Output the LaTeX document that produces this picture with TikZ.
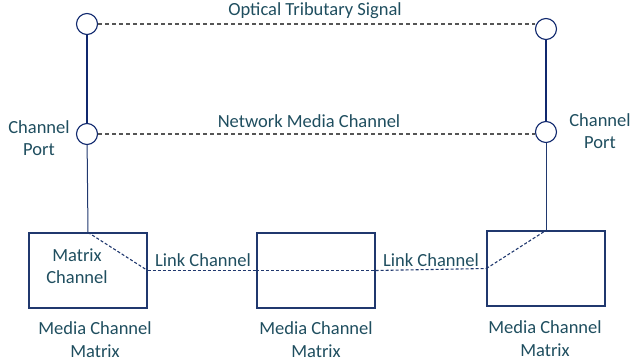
\documentclass[tikz,border=0pt]{standalone}
\usepackage{fontspec}
\setmainfont{Carlito}
\usepackage{xcolor}
\usetikzlibrary{arrows.meta}
\definecolor{txtteal}{RGB}{31,78,95}
\definecolor{navyline}{RGB}{16,40,110}
\definecolor{boxline}{RGB}{32,56,110}
\definecolor{dashgray}{RGB}{85,85,85}

\begin{document}
\begin{tikzpicture}[x=1pt,y=-1pt,
		lbl/.style={text=txtteal,font=\fontsize{18.5}{22.5}\selectfont,align=center,inner sep=0pt},
		port/.style={circle,draw=navyline,fill=white,line width=1.1pt,minimum size=21pt,inner sep=0pt},
		mcm/.style={rectangle,draw=boxline,line width=1.2pt,minimum width=118pt,minimum height=75pt,inner sep=0pt},
		sig/.style={dashgray,line width=1.2pt,dash pattern=on 4pt off 3pt},
		link/.style={boxline,line width=1.1pt,dash pattern=on 3pt off 2pt}]
		
		\useasboundingbox (0,0) rectangle (633,364);
		
		% Media channel matrices
		\node[mcm] (mxl) at (88,270.5) {};
		\node[mcm] (mxm) at (316,270.5) {};
		\node[mcm] (mxr) at (546,268.5) {};
		
		% Channel ports
		\draw[navyline,line width=2.4pt] (87,24) -- (87,134);
		\draw[navyline,line width=2.4pt] (546,29) -- (546,132);
		\node[port] (ptl) at (87,24) {};
		\node[port] (pbl) at (87,134) {};
		\node[port] (ptr) at (546,29) {};
		\node[port] (pbr) at (546,132) {};
		
		% Signal and network media channel
		\draw[sig] (ptl.east) -- (ptl.east -| ptr.west);
		\draw[sig] (pbl.east) -- (pbl.east -| pbr.west);
		\node[lbl] (ots) at (315,11) {Optical Tributary Signal};
		\node[lbl] (nmc) at (309,121) {Network Media Channel};
		
		% Ports down to the matrices
		\draw[boxline,line width=1pt] (pbl) -- (mxl.north);
		\draw[boxline,line width=1pt] (pbr) -- (mxr.north);
		
		% Matrix and link channels
		\draw[link] (mxl.north) -- (mxl.east);
		\draw[link] (mxl.east) -- (mxm.west);
		\draw[link] (mxm.west) -- (mxm.east);
		\draw[link] (mxm.east) -- (mxr.west);
		\draw[link] (mxr.west) -- (mxr.north);
		
		\node[lbl] (lc1) at (203,260) {Link Channel};
		\node[lbl] (lc2) at (431,260) {Link Channel};
		\node[lbl] (mch) at (77,266) {Matrix\\Channel};
		
		\node[lbl] (cpl) at (39,138) {Channel\\Port};
		\node[lbl] (cpr) at (600,131) {Channel\\Port};
		
		\node[lbl] (ml) at (95,339.5) {Media Channel\\Matrix};
		\node[lbl] (mm) at (316,339.5) {Media Channel\\Matrix};
		\node[lbl] (mr) at (545,338.5) {Media Channel\\Matrix};
		
	\end{tikzpicture}
\end{document}
